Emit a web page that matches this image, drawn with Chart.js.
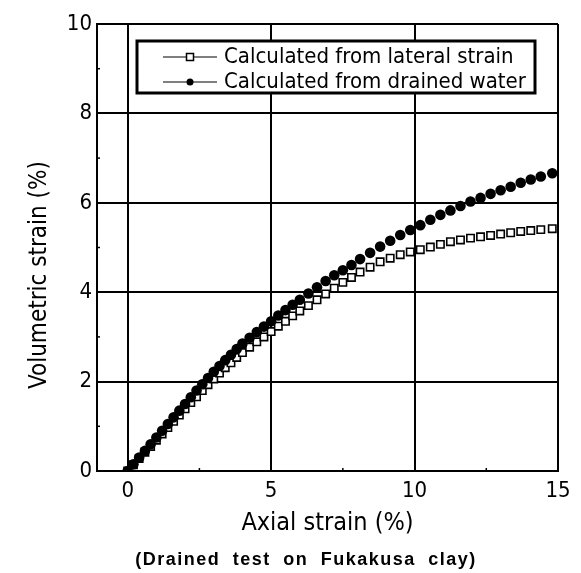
<!DOCTYPE html>
<html>
<head>
<meta charset="utf-8">
<script src="https://cdn.jsdelivr.net/npm/chart.js@4.4.1/dist/chart.umd.min.js"></script>
<style>
body{margin:0;background:#fff;}
canvas{display:block;}
</style>
</head>
<body>
<canvas id="grafico" width="581" height="573"></canvas>
<script>
// valores (deformacao axial x deformacao volumetrica, %)
var strain = [0,0.2,0.4,0.6,0.8,1.0,1.2,1.4,1.6,1.8,2.0,2.2,2.4,2.6,2.8,3.0,3.2,3.4,3.6,3.8,4.0,
	4.25,4.5,4.75,5.0,5.25,5.5,5.75,6.0,
	6.3,6.6,6.9,7.2,7.5,7.8,8.1,
	8.45,8.8,9.15,9.5,9.85,10.2,10.55,10.9,11.25,11.6,11.95,12.3,12.65,13.0,13.35,13.7,14.05,14.4,14.8];
var fromLateral = [0,0.14,0.28,0.42,0.55,0.69,0.83,0.97,1.11,1.25,1.39,1.53,1.66,1.80,1.93,2.06,2.19,2.31,2.42,2.54,2.65,
	2.77,2.89,3.00,3.12,3.24,3.35,3.47,3.58,
	3.70,3.83,3.96,4.09,4.22,4.33,4.45,
	4.56,4.68,4.76,4.84,4.90,4.95,5.01,5.07,5.13,5.17,5.21,5.24,5.27,5.30,5.33,5.36,5.38,5.40,5.42];
var fromWater = [0,0.15,0.30,0.45,0.60,0.75,0.90,1.05,1.20,1.35,1.50,1.65,1.80,1.94,2.08,2.22,2.35,2.48,2.60,2.73,2.85,
	2.98,3.11,3.23,3.35,3.48,3.60,3.72,3.83,
	3.97,4.11,4.25,4.38,4.49,4.61,4.74,
	4.88,5.02,5.15,5.28,5.39,5.50,5.62,5.73,5.83,5.93,6.03,6.11,6.20,6.28,6.36,6.45,6.52,6.59,6.66];
var xTicks = [0,5,10,15];
var yTicks = [0,2,4,6,8,10];
var xMinor = [2.5,7.5,12.5];
var yMinor = [1,3,5,7,9];
var labelLateral = 'Calculated from lateral strain';
var labelWater = 'Calculated from drained water';
var xTitle = 'Axial strain (%)';
var yTitle = 'Volumetric strain (%)';
var subTitle = '(Drained test on Fukakusa clay)';

var FONTE = "'Liberation Sans Narrow','DejaVu Sans Condensed','Liberation Sans',Arial,sans-serif";

function pontos(ys){
	return strain.map(function(x,i){ return {x:x, y:ys[i]}; });
}

// legenda com caixa, marcas menores, titulo do eixo y e subtitulo
var extras = {
	id: 'extras',
	afterDatasetsDraw: function(chart){
		var ctx = chart.ctx;
		var sx = chart.scales.x, sy = chart.scales.y;
		ctx.save();
		ctx.strokeStyle = '#000';
		ctx.lineWidth = 1.5;
		xMinor.forEach(function(v){
			var px = sx.getPixelForValue(v);
			ctx.beginPath(); ctx.moveTo(px, sy.bottom); ctx.lineTo(px, sy.bottom-3); ctx.stroke();
		});
		yMinor.forEach(function(v){
			var py = sy.getPixelForValue(v);
			ctx.beginPath(); ctx.moveTo(sx.left, py); ctx.lineTo(sx.left+3, py); ctx.stroke();
		});

		// caixa da legenda
		ctx.fillStyle = '#fff';
		ctx.fillRect(137,41,398,52);
		ctx.lineWidth = 3;
		ctx.strokeRect(137,41,398,52);

		var linhas = [57, 82];
		ctx.lineWidth = 1.2;
		linhas.forEach(function(y){
			ctx.beginPath(); ctx.moveTo(163,y); ctx.lineTo(217,y); ctx.stroke();
		});
		ctx.fillStyle = '#fff';
		ctx.lineWidth = 1.5;
		ctx.fillRect(186.5,53.5,7,7);
		ctx.strokeRect(186.5,53.5,7,7);
		ctx.fillStyle = '#000';
		ctx.beginPath(); ctx.arc(190,82,3.5,0,Math.PI*2); ctx.fill();

		ctx.font = '22px ' + FONTE;
		ctx.textBaseline = 'middle';
		ctx.textAlign = 'left';
		ctx.fillText(labelLateral, 224, 57);
		ctx.fillText(labelWater, 224, 82);

		// titulo do eixo y (um pouco abaixo do centro, como no original)
		ctx.save();
		ctx.translate(40, 275);
		ctx.rotate(-Math.PI/2);
		ctx.textAlign = 'center';
		ctx.font = '24px ' + FONTE;
		ctx.fillText(yTitle, 0, 0);
		ctx.restore();

		ctx.font = "bold 18px 'Liberation Sans',Arial,sans-serif";
		ctx.textAlign = 'center';
		ctx.letterSpacing = '1.5px';
		ctx.wordSpacing = '6px';
		ctx.fillText(subTitle, 306, 560);
		ctx.restore();
	}
};

var grafico = new Chart(document.getElementById('grafico'), {
	type: 'scatter',
	data: {
		datasets: [{
			label: labelWater,
			data: pontos(fromWater),
			order: 0,
			pointStyle: 'circle',
			pointRadius: 5.3,
			backgroundColor: '#000',
			borderColor: '#000',
			borderWidth: 0,
			showLine: false
		},{
			label: labelLateral,
			data: pontos(fromLateral),
			order: 1,
			pointStyle: 'rect',
			pointRadius: 5.2,
			backgroundColor: '#fff',
			borderColor: '#000',
			borderWidth: 1.6,
			showLine: false
		}]
	},
	options: {
		responsive: false,
		animation: false,
		layout: { padding: { left: 0, right: 23, top: 24, bottom: 0 } },
		plugins: { legend: { display: false }, tooltip: { enabled: false } },
		scales: {
			x: {
				type: 'linear',
				min: -1.07,
				max: 15,
				afterBuildTicks: function(s){ s.ticks = xTicks.map(function(v){ return {value:v}; }); },
				afterFit: function(s){ s.height = 102; },
				grid: { color: '#000', lineWidth: 2, drawTicks: false },
				border: { color: '#000', width: 2 },
				ticks: { color: '#000', padding: 7, font: { size: 22, family: FONTE } },
				title: { display: true, text: xTitle, color: '#000', padding: { top: 0, bottom: 35 }, font: { size: 25, family: FONTE } }
			},
			y: {
				type: 'linear',
				min: 0,
				max: 10,
				afterBuildTicks: function(s){ s.ticks = yTicks.map(function(v){ return {value:v}; }); },
				afterFit: function(s){ s.width = 97; },
				grid: { color: '#000', lineWidth: 2, drawTicks: false },
				border: { color: '#000', width: 2 },
				ticks: { color: '#000', padding: 5, font: { size: 22, family: FONTE } }
			}
		}
	},
	plugins: [extras]
});
</script>
</body>
</html>
